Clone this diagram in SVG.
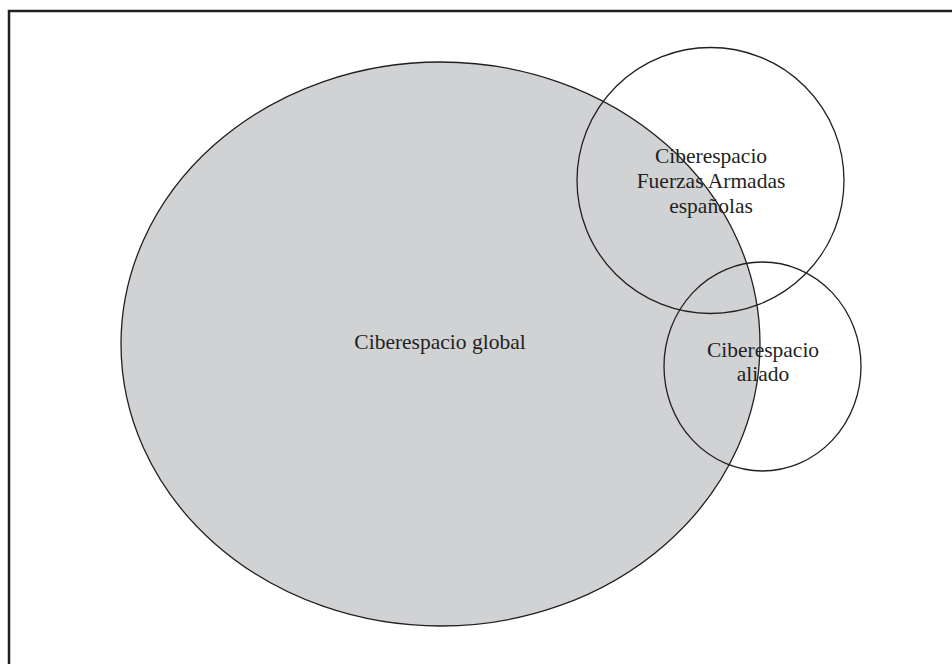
<svg xmlns="http://www.w3.org/2000/svg" width="952" height="664" viewBox="0 0 952 664">
<style>
.shape{stroke:#231f20;stroke-width:1.3}
.lbl{font-family:"Liberation Serif","Times New Roman",serif;font-size:21.5px;fill:#231f20;text-anchor:middle}
</style>
<rect x="0" y="0" width="952" height="664" fill="#ffffff"/>
<g id="frame">
<path d="M9,664 V11 H952" fill="none" stroke="#231f20" stroke-width="2.5"/>
</g>
<g id="global">
<ellipse class="shape" cx="440.5" cy="344" rx="319.5" ry="282" fill="#d1d2d4"/>
<text class="lbl" x="440" y="349">Ciberespacio global</text>
</g>
<g id="fuerzas">
<ellipse class="shape" cx="710.5" cy="180.5" rx="133.5" ry="133" fill="none"/>
<text class="lbl" x="711" y="163">Ciberespacio</text>
<text class="lbl" x="711" y="188">Fuerzas Armadas</text>
<text class="lbl" x="711" y="213">españolas</text>
</g>
<g id="aliado">
<ellipse class="shape" cx="762.5" cy="366.5" rx="98.5" ry="104.5" fill="none"/>
<text class="lbl" x="763" y="357">Ciberespacio</text>
<text class="lbl" x="763" y="381">aliado</text>
</g>
<g id="connectors"></g>
</svg>
